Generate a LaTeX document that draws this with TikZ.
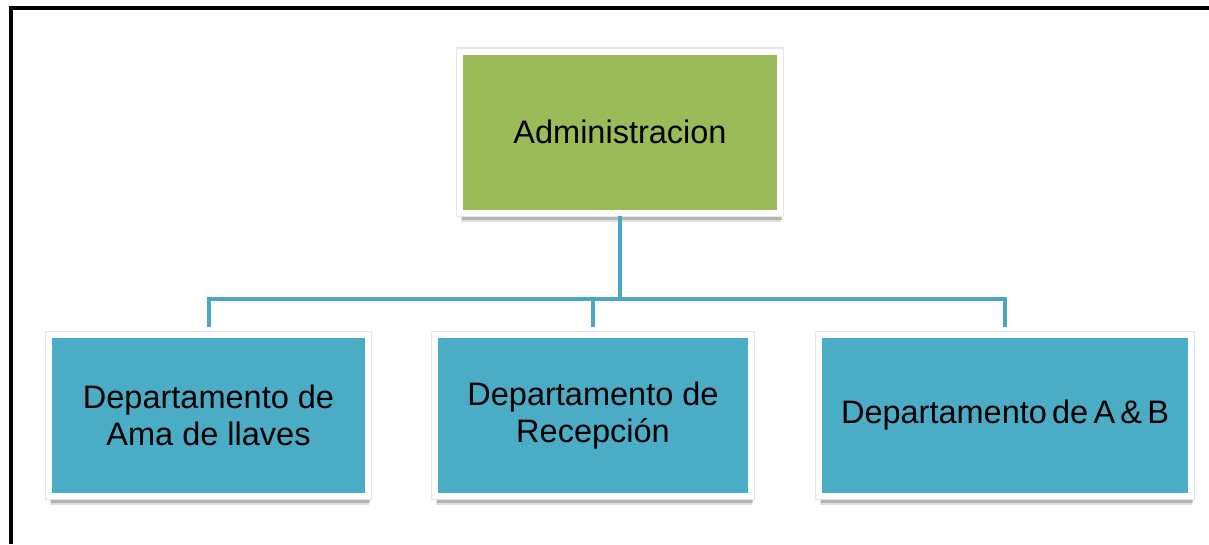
\documentclass[tikz,border=0pt]{standalone}
\usepackage{fontspec}
\setmainfont{Liberation Sans}
\usetikzlibrary{shadows,calc}
\definecolor{admgreen}{RGB}{155,187,89}
\definecolor{depblue}{RGB}{75,172,198}
\definecolor{linkblue}{RGB}{74,166,194}
\newcommand{\bh}{161}
\newcommand{\obox}[5]{
  \node [box,fill=#3,minimum width=#2pt] at #1 (#5) {#4};
}
\newcommand{\olink}[1]{
  \draw [link] (#1.north |- bus) -- ([yshift=5pt]#1.north);
}

\begin{document}
\begin{tikzpicture}[x=1pt,y=-1pt,
  box/.style={draw=white,line width=6pt,minimum height=\bh pt,align=center,
    font=\fontsize{32.5}{37}\selectfont,
    drop shadow={shadow xshift=1pt,shadow yshift=-9pt,fill=black,opacity=0.12},
    drop shadow={shadow xshift=2pt,shadow yshift=-7pt,fill=black,opacity=0.2},
    preaction={draw=black!10,line width=8.5pt}},
  link/.style={draw=linkblue,line width=4pt}]
  \useasboundingbox (0,0) rectangle (1209,544);
  \draw [line width=4pt,miter limit=10] (11,544) -- (11,8) -- (1209,8);

  \obox{(620,132)}{320}{admgreen}{Administracion}{adm}
  \obox{(208.5,415.5)}{319}{depblue}{Departamento de\\Ama de llaves}{hk}
  \obox{(593,415.5)}{316}{depblue}{Departamento de\\Recepción}{rec}
  \obox{(1005,415.5)}{372}{depblue}{\spaceskip=0.16em Departamento de A \& B}{ab}

  \coordinate (bus) at (620,299);
  \draw [link] (adm.south) -- (adm.south |- bus);
  \draw [link] ([xshift=-2pt]hk.north |- bus) -- ([xshift=2pt]ab.north |- bus);
  \olink{hk}
  \olink{rec}
  \olink{ab}
\end{tikzpicture}
\end{document}
